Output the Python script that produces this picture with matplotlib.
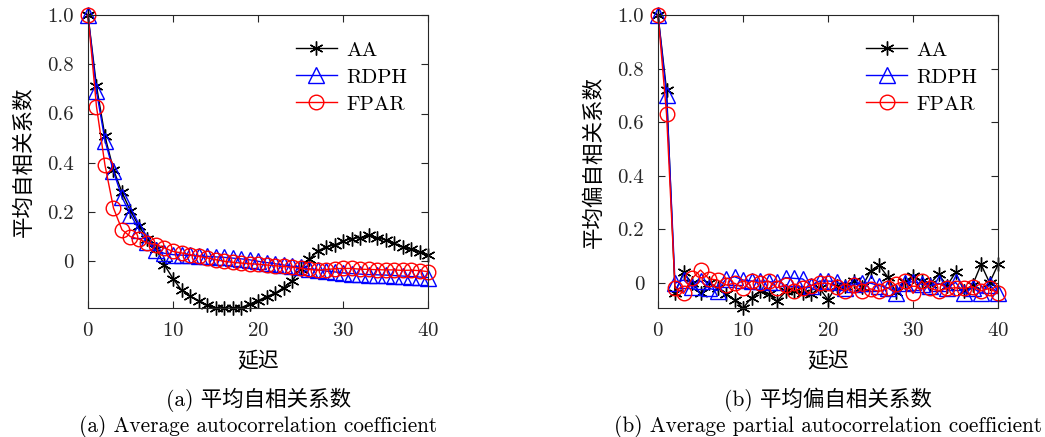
import numpy as np
import matplotlib
matplotlib.use("Agg")
import matplotlib.pyplot as plt

plt.rcParams['font.family'] = ['cmr10', 'Noto Sans CJK SC']
plt.rcParams['mathtext.fontset'] = 'cm'
plt.rcParams['axes.unicode_minus'] = False
plt.rcParams['axes.formatter.use_mathtext'] = True

lags = np.arange(41)

# average autocorrelation coefficient
acf_aa = [1.0, 0.712, 0.507, 0.372, 0.28, 0.205, 0.142, 0.09, 0.05, -0.015,
          -0.07, -0.117, -0.14, -0.16, -0.178, -0.188, -0.19, -0.19, -0.188, -0.174,
          -0.16, -0.143, -0.13, -0.107, -0.08, -0.032, 0.008, 0.042, 0.058, 0.066,
          0.082, 0.092, 0.096, 0.105, 0.096, 0.086, 0.073, 0.058, 0.049, 0.038, 0.027]
acf_rdph = [1.0, 0.69, 0.49, 0.365, 0.26, 0.19, 0.128, 0.077, 0.045, 0.032,
            0.027, 0.025, 0.024, 0.022, 0.02, 0.018, 0.016, 0.013, 0.01, 0.006,
            0.0, -0.005, -0.01, -0.015, -0.02, -0.025, -0.03, -0.035, -0.04, -0.043,
            -0.047, -0.05, -0.052, -0.054, -0.055, -0.056, -0.058, -0.06, -0.062, -0.064, -0.066]
acf_fpar = [1.0, 0.628, 0.39, 0.216, 0.128, 0.10, 0.09, 0.074, 0.068, 0.054,
            0.04, 0.034, 0.027, 0.02, 0.014, 0.007, 0.0, -0.004, -0.007, -0.01,
            -0.012, -0.015, -0.018, -0.021, -0.024, -0.028, -0.033, -0.036, -0.034, -0.03,
            -0.029, -0.029, -0.032, -0.033, -0.034, -0.035, -0.035, -0.037, -0.036, -0.038, -0.042]

# average partial autocorrelation coefficient
pacf_aa = [1.0, 0.72, -0.037, 0.038, -0.002, -0.04, -0.002, -0.019, -0.043, -0.064,
           -0.095, -0.056, -0.031, -0.043, -0.07, -0.033, -0.033, -0.04, -0.043, -0.021,
           -0.064, -0.011, -0.011, 0.006, -0.015, 0.043, 0.066, 0.022, -0.036, 0.001,
           0.026, 0.006, -0.004, 0.031, -0.011, 0.038, -0.031, -0.009, 0.068, 0.0, 0.068]
pacf_rdph = [1.0, 0.70, -0.002, 0.01, -0.015, 0.006, -0.021, -0.03, 0.014, 0.022,
             0.01, 0.006, 0.006, 0.004, 0.001, 0.019, 0.016, 0.014, -0.011, 0.006,
             0.006, 0.004, -0.021, -0.006, -0.002, -0.002, -0.011, -0.019, -0.04, -0.002,
             0.004, -0.006, -0.011, -0.002, -0.019, 0.001, -0.04, -0.019, -0.04, -0.009, -0.04]
pacf_fpar = [1.0, 0.63, -0.019, -0.04, 0.016, 0.047, 0.014, 0.01, -0.009, -0.002,
             -0.021, 0.006, -0.002, 0.006, -0.019, -0.009, -0.031, -0.021, -0.011, -0.002,
             -0.002, -0.015, -0.031, -0.009, -0.033, -0.023, -0.033, -0.021, -0.006, 0.006,
             -0.04, 0.006, -0.021, -0.031, -0.021, -0.019, -0.021, -0.015, -0.031, -0.021, -0.04]

yticks = [0, 0.2, 0.4, 0.6, 0.8, 1.0]
ytick_labels = ['0', '0.2', '0.4', '0.6', '0.8', '1.0']
xticks = [0, 10, 20, 30, 40]

fig = plt.figure(figsize=(10.45, 4.37), dpi=100)
ax1 = fig.add_axes([0.0842, 0.295, 0.3254, 0.6706])
ax2 = fig.add_axes([0.6297, 0.295, 0.3254, 0.6706])

def draw(ax, aa, rdph, fpar, ymin, ylabel):
    ax.plot(lags, aa, '-', color='k', lw=1, marker=(6, 2, 0), ms=10, mew=1,
            label='AA', clip_on=False)
    ax.plot(lags, rdph, '-', color='b', lw=1, marker='^', ms=11, mfc='none', mew=1,
            label='RDPH', clip_on=False)
    ax.plot(lags, fpar, '-', color='r', lw=1, marker='o', ms=10.5, mfc='none', mew=1,
            label='FPAR', clip_on=False)
    ax.set_xlim(0, 40)
    ax.set_ylim(ymin, 1.0)
    ax.set_xticks(xticks)
    ax.set_yticks(yticks)
    ax.set_yticklabels(ytick_labels)
    ax.tick_params(direction='in', top=True, right=True, length=5, labelsize=15,
                   colors='#262626', pad=10)
    for s in ax.spines.values():
        s.set_color('#262626')
        s.set_linewidth(0.8)
    ax.set_xlabel('延迟', fontsize=15, labelpad=8)
    ax.set_ylabel(ylabel, fontsize=15.5, labelpad=10)
    ax.legend(loc='upper right', frameon=False, fontsize=15, handlelength=2.0,
              handletextpad=0.45, bbox_to_anchor=(0.995, 0.975), labelspacing=0.4)

draw(ax1, acf_aa, acf_rdph, acf_fpar, -0.19, '平均自相关系数')
draw(ax2, pacf_aa, pacf_rdph, pacf_fpar, -0.095, '平均偏自相关系数')

fig.text(0.247, 0.085, '(a) 平均自相关系数', ha='center', va='center', fontsize=15.5)
fig.text(0.247, 0.025, '(a) Average autocorrelation coefficient', ha='center',
         va='center', fontsize=15.3)
fig.text(0.792, 0.085, '(b) 平均偏自相关系数', ha='center', va='center', fontsize=15.5)
fig.text(0.792, 0.025, '(b) Average partial autocorrelation coefficient', ha='center',
         va='center', fontsize=15.3)

fig.savefig('out.png', dpi=100)
